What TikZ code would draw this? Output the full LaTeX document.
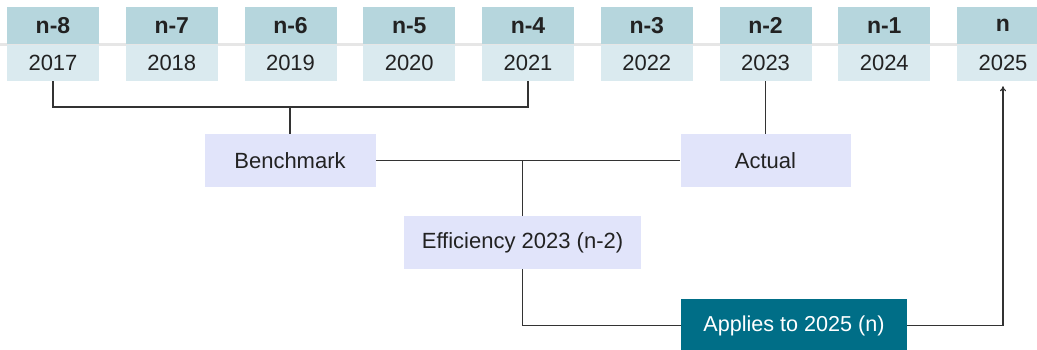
\documentclass[tikz,border=0pt]{standalone}
\usepackage{fontspec}
\setmainfont{Liberation Sans}
\usetikzlibrary{positioning,arrows.meta}

\definecolor{hdrblue}{HTML}{B6D6DD}
\definecolor{yearblue}{HTML}{DAEAEF}
\definecolor{lavender}{HTML}{E1E4FA}
\definecolor{tealbox}{HTML}{006E87}
\definecolor{bandgray}{HTML}{E6E6E6}
\definecolor{inkgray}{HTML}{222222}
\definecolor{linegray}{HTML}{333333}

\begin{document}
\begin{tikzpicture}[x=0.5pt, y=-0.5pt,
    hdrcell/.style={fill=hdrblue, minimum width=46pt, minimum height=18.5pt, inner sep=0pt,
        text=inkgray, font=\bfseries\fontsize{11.5}{13}\selectfont},
    yearcell/.style={fill=yearblue, minimum width=46pt, minimum height=18pt, inner sep=0pt,
        text=inkgray, font=\fontsize{11}{13}\selectfont},
    stepbox/.style={fill=lavender, minimum height=26.5pt, inner sep=0pt,
        text=inkgray, font=\fontsize{11}{13}\selectfont},
    resultbox/.style={fill=tealbox, minimum height=26.5pt, inner sep=0pt,
        text=white, font=\fontsize{10.8}{13}\selectfont},
    link/.style={draw=linegray, line width=0.55pt}
]
    \useasboundingbox (0,0) rectangle (1037,349);

    % --- 1. timeline ---
    \fill[bandgray] (0,43) rectangle (1037,45.5);
    \foreach \lab/\yr [count=\i from 0] in {n-8/2017, n-7/2018, n-6/2019, n-5/2020,
        n-4/2021, n-3/2022, n-2/2023, n-1/2024, n/2025} {
        \node[hdrcell] (hdr\yr) at ({53+118.75*\i},25.5) {\lab};
        \node[yearcell, below=0pt of hdr\yr] (yr\yr) {\yr};
    }

    % --- 2. steps ---
    \node[stepbox, minimum width=85.5pt] (bench) at (290,160.5) {Benchmark};
    \node[stepbox, minimum width=85pt] (actual) at (765.5,160.5) {Actual};
    \node[stepbox, minimum width=118.5pt] (eff) at (522.5,242.5) {Efficiency 2023 (n-2)};
    \node[resultbox, minimum width=113pt] (applies) at (794,325.5) {Applies to 2025 (n)};

    % --- 3. connectors ---
    \coordinate (benchjoin) at (290,107);
    \draw[link] (yr2017.south) |- (benchjoin) -| (yr2021.south);
    \draw[link] (benchjoin) -- (bench.north);
    \draw[link] (yr2023.south) -- (actual.north);
    \draw[link] (bench.east) -- (actual.west);
    \draw[link] (eff.north) -- (eff.north |- bench.east);
    \draw[link] (eff.south) |- (applies.west);
    \draw[link, -{To[length=2.5pt,width=3pt]}, shorten >=2.5pt] (applies.east) -| (yr2025.south);

\end{tikzpicture}
\end{document}
